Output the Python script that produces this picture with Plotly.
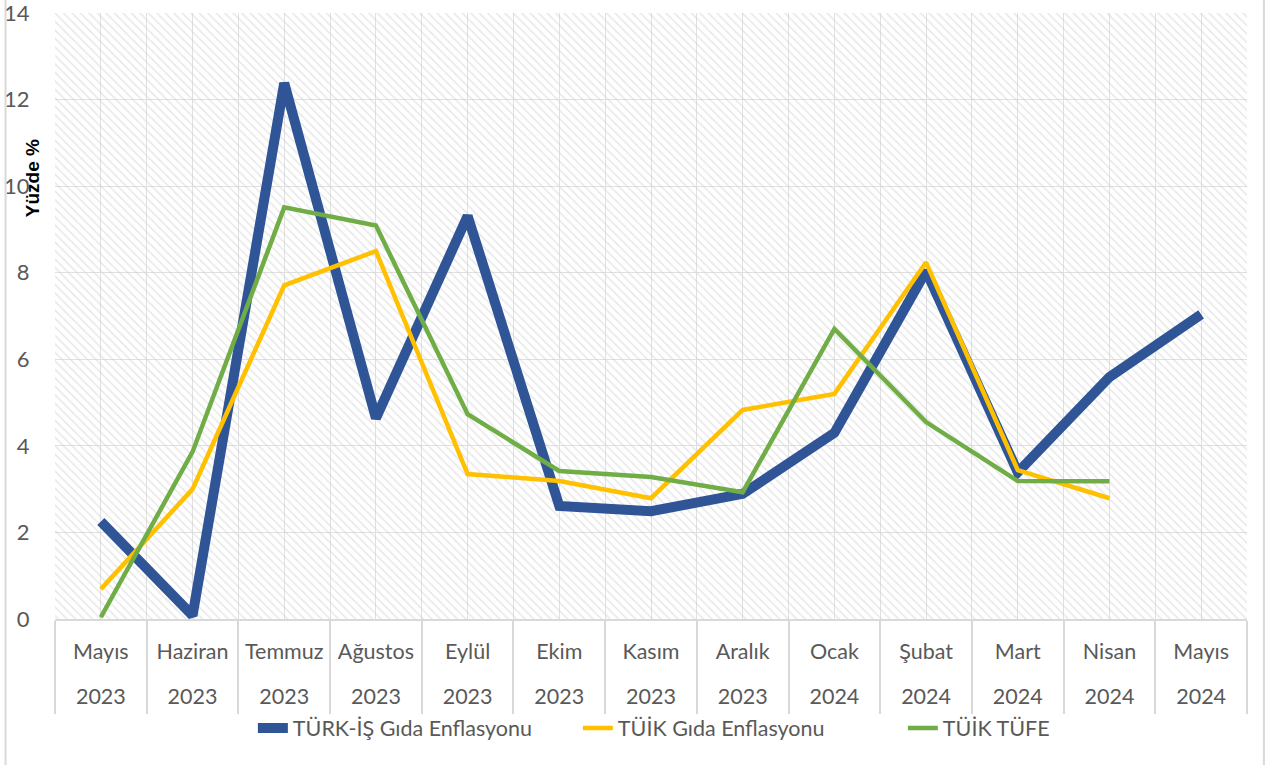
import plotly.graph_objects as go

months = ["Mayıs", "Haziran", "Temmuz", "Ağustos", "Eylül", "Ekim", "Kasım",
          "Aralık", "Ocak", "Şubat", "Mart", "Nisan", "Mayıs"]
years = ["2023", "2023", "2023", "2023", "2023", "2023", "2023",
         "2023", "2024", "2024", "2024", "2024", "2024"]
categories = [f"{m} {y}" for m, y in zip(months, years)]

turkis_gida = [2.25, 0.08, 12.38, 4.64, 9.31, 2.61, 2.49, 2.89, 4.30, 8.04, 3.39, 5.59, 7.04]
tuik_gida = [0.69, 3.00, 7.71, 8.50, 3.35, 3.19, 2.79, 4.83, 5.20, 8.24, 3.44, 2.79, None]
tuik_tufe = [0.04, 3.86, 9.51, 9.09, 4.73, 3.42, 3.28, 2.93, 6.70, 4.55, 3.19, 3.18, None]

series = [
    ("TÜRK-İŞ Gıda Enflasyonu", turkis_gida, "#2F5597", 10),
    ("TÜİK Gıda Enflasyonu", tuik_gida, "#FFC000", 4.5),
    ("TÜİK TÜFE", tuik_tufe, "#70AD47", 4.5),
]

Y_MAX = 14
grid_color = "#e0e0e0"
text_color = "#595959"
font_family = "Lato, 'Open Sans', sans-serif"
label_size = 21.5

fig = go.Figure()

# hatched plot-area background
fig.add_trace(go.Bar(
    x=categories, y=[Y_MAX] * len(categories), width=1,
    marker=dict(color="rgba(0,0,0,0)",
                pattern=dict(shape="\\", fgcolor="#d0d0d0", bgcolor="rgba(0,0,0,0)",
                             size=6, solidity=0.25),
                line=dict(width=0)),
    hoverinfo="skip", showlegend=False, xaxis="x", yaxis="y",
))

for name, vals, color, w in series:
    fig.add_trace(go.Scatter(
        x=categories, y=vals, name=name, mode="lines",
        line=dict(color=color, width=w),
        xaxis="x2", yaxis="y",
    ))

cat_axis = dict(type="category", categoryorder="array", categoryarray=categories,
                range=[-0.5, len(categories) - 0.5], automargin=False, zeroline=False)

fig.update_layout(
    width=1277, height=765,
    margin=dict(l=55, r=30, t=13, b=146, autoexpand=False),
    paper_bgcolor="white", plot_bgcolor="white",
    bargap=0,
    font=dict(family=font_family, color=text_color, size=label_size),
    # month labels + gridlines at category centres
    xaxis=dict(
        **cat_axis,
        tickmode="array", tickvals=categories, ticktext=months,
        ticks="outside", ticklen=13, tickcolor="rgba(0,0,0,0)",
        showgrid=True, gridcolor=grid_color, gridwidth=1.3,
        showline=False,
        tickfont=dict(size=label_size, color=text_color, family=font_family),
    ),
    # dividers + gridlines at category boundaries
    xaxis2=dict(
        **cat_axis,
        overlaying="x", anchor="y", side="bottom",
        tickson="boundaries", ticks="outside", ticklen=93, tickwidth=1.5,
        tickcolor="#d9d9d9",
        showgrid=True, gridcolor=grid_color, gridwidth=1.3,
        showticklabels=False, showline=True, linecolor="#d9d9d9", linewidth=1.5,
    ),
    # year labels
    xaxis3=dict(
        **cat_axis,
        overlaying="x", anchor="y", side="bottom",
        tickmode="array", tickvals=categories, ticktext=years,
        ticks="outside", ticklen=58, tickcolor="rgba(0,0,0,0)",
        showgrid=False, showline=False,
        tickfont=dict(size=label_size, color=text_color, family=font_family),
    ),
    yaxis=dict(
        range=[0, Y_MAX], dtick=2, tick0=0, automargin=False,
        showgrid=True, gridcolor=grid_color, gridwidth=1.3,
        zeroline=False, showline=False, ticklabeloverflow="allow",
        ticks="outside", ticklen=20, tickcolor="rgba(0,0,0,0)",
        tickfont=dict(size=22, color=text_color, family=font_family),
    ),
    legend=dict(
        orientation="h", x=0.166, xanchor="left", y=-0.18, yanchor="middle",
        entrywidth=280, entrywidthmode="pixels",
        font=dict(size=label_size, color=text_color, family=font_family),
        bgcolor="rgba(0,0,0,0)",
    ),
    showlegend=True,
)

# invisible anchor trace so the year axis is always drawn
fig.add_trace(go.Scatter(x=categories, y=[None] * len(categories), xaxis="x3", yaxis="y",
                         mode="lines", showlegend=False, hoverinfo="skip"))

fig.add_annotation(
    text="<b>Yüzde %</b>", textangle=-90, showarrow=False,
    xref="paper", yref="paper", x=-0.019, y=0.728,
    xanchor="center", yanchor="middle",
    font=dict(family="Liberation Sans, Arial, sans-serif", size=19, color="black"),
)

# outer chart border (left and right edges visible in the original)
for xp in (-0.0415, 1.0142):
    fig.add_shape(type="line", xref="paper", yref="paper",
                  x0=xp, x1=xp, y0=-0.25, y1=1.05,
                  line=dict(color="#d9d9d9", width=2))

fig.write_html("out.html", config={"displayModeBar": False},
               post_script="document.body.style.margin='0';")
